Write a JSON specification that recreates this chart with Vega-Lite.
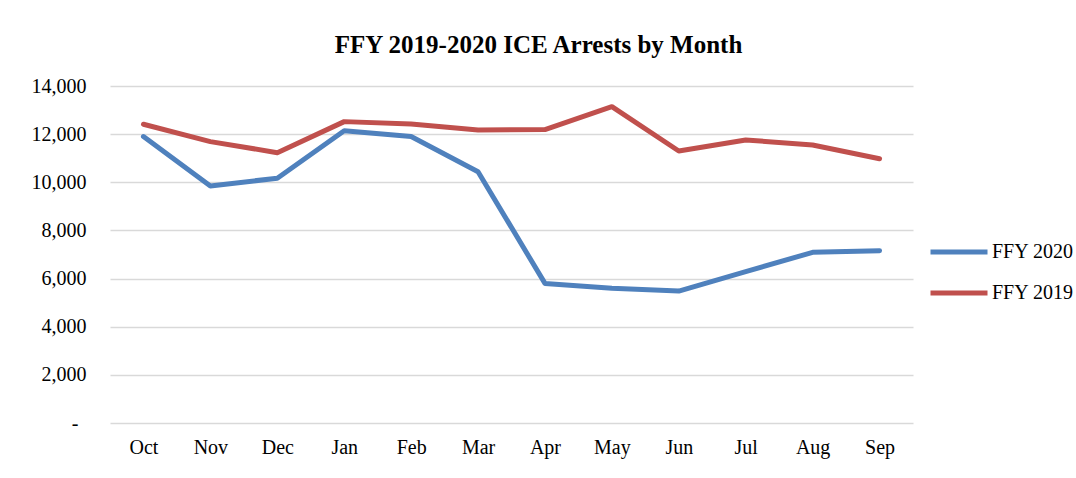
{
  "$schema": "https://vega.github.io/schema/vega-lite/v6.json",
  "width": 803,
  "height": 337,
  "autosize": {"type": "none"},
  "padding": {"left": 110, "top": 86, "right": 163, "bottom": 55},
  "background": "white",
  "title": {
    "text": "FFY 2019-2020 ICE Arrests by Month",
    "font": "Liberation Serif",
    "fontSize": 25,
    "fontWeight": "bold",
    "color": "#000000",
    "anchor": "middle",
    "dx": 27,
    "dy": 23,
    "baseline": "bottom",
    "offset": 16
  },
  "data": {
    "values": [
      {"month": "Oct", "series": "FFY 2020", "arrests": 11900},
      {"month": "Nov", "series": "FFY 2020", "arrests": 9850},
      {"month": "Dec", "series": "FFY 2020", "arrests": 10170},
      {"month": "Jan", "series": "FFY 2020", "arrests": 12140},
      {"month": "Feb", "series": "FFY 2020", "arrests": 11900},
      {"month": "Mar", "series": "FFY 2020", "arrests": 10440},
      {"month": "Apr", "series": "FFY 2020", "arrests": 5800},
      {"month": "May", "series": "FFY 2020", "arrests": 5600},
      {"month": "Jun", "series": "FFY 2020", "arrests": 5480},
      {"month": "Jul", "series": "FFY 2020", "arrests": 6290},
      {"month": "Aug", "series": "FFY 2020", "arrests": 7090},
      {"month": "Sep", "series": "FFY 2020", "arrests": 7160},
      {"month": "Oct", "series": "FFY 2019", "arrests": 12410},
      {"month": "Nov", "series": "FFY 2019", "arrests": 11690},
      {"month": "Dec", "series": "FFY 2019", "arrests": 11230},
      {"month": "Jan", "series": "FFY 2019", "arrests": 12520},
      {"month": "Feb", "series": "FFY 2019", "arrests": 12420},
      {"month": "Mar", "series": "FFY 2019", "arrests": 12170},
      {"month": "Apr", "series": "FFY 2019", "arrests": 12190},
      {"month": "May", "series": "FFY 2019", "arrests": 13140},
      {"month": "Jun", "series": "FFY 2019", "arrests": 11300},
      {"month": "Jul", "series": "FFY 2019", "arrests": 11760},
      {"month": "Aug", "series": "FFY 2019", "arrests": 11550},
      {"month": "Sep", "series": "FFY 2019", "arrests": 10980}
    ]
  },
  "mark": {"type": "line", "strokeWidth": 5, "strokeCap": "round", "strokeJoin": "round"},
  "encoding": {
    "x": {
      "field": "month",
      "type": "ordinal",
      "sort": ["Oct", "Nov", "Dec", "Jan", "Feb", "Mar", "Apr", "May", "Jun", "Jul", "Aug", "Sep"],
      "scale": {"paddingInner": 0, "paddingOuter": 0.5},
      "axis": {
        "title": null,
        "labelAngle": 0,
        "domain": false,
        "ticks": false,
        "grid": false,
        "labelFont": "Liberation Serif",
        "labelFontSize": 20,
        "labelColor": "#000000",
        "labelBaseline": "top",
        "labelPadding": 14
      }
    },
    "y": {
      "field": "arrests",
      "type": "quantitative",
      "scale": {"domain": [0, 14000], "nice": false},
      "axis": {
        "title": null,
        "values": [0, 2000, 4000, 6000, 8000, 10000, 12000, 14000],
        "labelExpr": "datum.value == 0 ? '-' : format(datum.value, ',')",
        "domain": false,
        "ticks": false,
        "grid": true,
        "gridColor": "#d9d9d9",
        "gridWidth": 1.5,
        "labelFont": "Liberation Serif",
        "labelFontSize": 20,
        "labelColor": "#000000",
        "labelPadding": {"condition": {"test": "datum.value == 0", "value": 32}, "value": 24}
      }
    },
    "color": {
      "field": "series",
      "type": "nominal",
      "sort": ["FFY 2020", "FFY 2019"],
      "scale": {"domain": ["FFY 2020", "FFY 2019"], "range": ["#4f81bd", "#c0504d"]},
      "legend": {
        "title": null,
        "orient": "none",
        "legendX": 818,
        "legendY": 135,
        "symbolType": "stroke",
        "symbolSize": 3249,
        "symbolStrokeWidth": 5,
        "labelFont": "Liberation Serif",
        "labelFontSize": 20,
        "labelColor": "#000000",
        "labelOffset": 2,
        "rowPadding": -6
      }
    }
  },
  "config": {
    "view": {"stroke": null}
  }
}
